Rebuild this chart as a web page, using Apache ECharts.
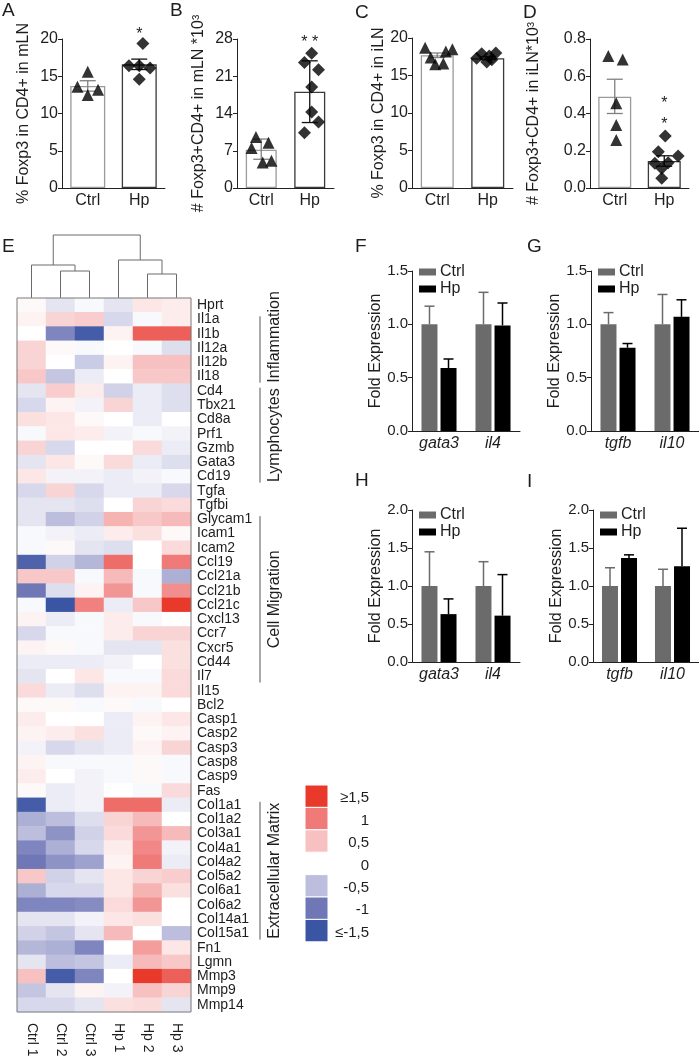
<!DOCTYPE html>
<html><head><meta charset="utf-8">
<script src="https://cdn.jsdelivr.net/npm/echarts@6/dist/echarts.min.js"></script>
<style>html,body{margin:0;padding:0;background:#fff}#c{width:699px;height:1063px}</style>
</head><body><div id="c"></div>
<script>
// ---------------- DATA ----------------
const groups = ['Ctrl', 'Hp'];

// Panel A
const aTitle = '% Foxp3 in CD4+ in mLN';
const aTicks = [0, 5, 10, 15, 20];
const aMeans = [13.7, 16.6];
const aErr = [[13.0, 14.4], [15.9, 17.3]];
const aCtrlPts = [15.6, 13.6, 12.5, 13.2];
const aCtrlJit = [0, -0.2, 0, 0.2];
const aHpPts = [19.4, 16.4, 16.4, 16.1, 14.6];
const aHpJit = [0.07, -0.2, 0, 0.21, 0];
const aStars = [[1, 20.6, '*']];

// Panel B
const bTitle = '# Foxp3+CD4+ in mLN *10³';
const bTicks = [0, 7, 14, 21, 28];
const bMeans = [7.2, 18.1];
const bErr = [[5.4, 9.2], [12.3, 23.9]];
const bCtrlPts = [9.6, 8.5, 7.5, 4.8, 5.1];
const bCtrlJit = [-0.11, 0.15, -0.2, 0.03, 0.21];
const bHpPts = [25.3, 23.6, 22.2, 19.0, 14.3, 12.4, 10.4];
const bHpJit = [0.04, -0.11, 0.18, 0.04, 0.04, 0.18, -0.11];
const bStars = [[1, 27.3, '* *']];

// Panel C
const cTitle = '% Foxp3 in CD4+ in iLN';
const cTicks = [0, 5, 10, 15, 20];
const cMeans = [17.7, 17.3];
const cErr = [[17.4, 18.0], [17.1, 17.5]];
const cCtrlPts = [18.7, 17.4, 16.5, 16.6, 18.2, 18.5];
const cCtrlJit = [-0.24, -0.13, -0.04, 0.12, 0.17, 0.3];
const cHpPts = [17.9, 16.8, 17.1, 18.0, 17.3, 17.6];
const cHpJit = [-0.12, -0.02, 0.08, 0.16, -0.22, 0.03];
const cStars = [];

// Panel D
const dTitle = '# Foxp3+CD4+ in iLN*10³';
const dTicks = [0, 0.2, 0.4, 0.6, 0.8];
const dMeans = [0.49, 0.145];
const dErr = [[0.40, 0.584], [0.117, 0.173]];
const dCtrlPts = [0.709, 0.69, 0.455, 0.338, 0.258];
const dCtrlJit = [-0.13, 0.16, 0.03, 0.03, 0.03];
const dHpPts = [0.279, 0.195, 0.172, 0.133, 0.136, 0.106, 0.052];
const dHpJit = [0.02, -0.12, 0.28, -0.19, 0.08, -0.05, -0.05];
const dStars = [[1, 0.451, '*'], [1, 0.338, '*']];

// Panel E (heatmap)
const samples = ['Ctrl 1', 'Ctrl 2', 'Ctrl 3', 'Hp 1', 'Hp 2', 'Hp 3'];
const genes = ['Hprt','Il1a','Il1b','Il12a','Il12b','Il18','Cd4','Tbx21','Cd8a','Prf1','Gzmb','Gata3','Cd19','Tgfa','Tgfbi',
  'Glycam1','Icam1','Icam2','Ccl19','Ccl21a','Ccl21b','Ccl21c','Cxcl13','Ccr7','Cxcr5','Cd44','Il7','Il15','Bcl2',
  'Casp1','Casp2','Casp3','Casp8','Casp9','Fas','Col1a1','Col1a2','Col3a1','Col4a1','Col4a2','Col5a2','Col6a1','Col6a2',
  'Col14a1','Col15a1','Fn1','Lgmn','Mmp3','Mmp9','Mmp14'];
const heatValues = [
  [0.05,-0.2,-0.05,-0.2,0.2,0.15],
  [0.1,0.35,0.4,-0.3,-0.05,0.15],
  [0.0,-0.9,-1.4,0.1,1.2,1.2],
  [0.35,0.05,-0.05,0.0,-0.05,-0.25],
  [0.35,0.0,-0.4,0.1,0.5,0.5],
  [0.45,-0.45,-0.15,0.0,0.45,0.45],
  [-0.2,0.4,0.15,-0.35,-0.15,-0.25],
  [-0.3,0.1,-0.1,0.35,-0.15,-0.25],
  [0.25,0.2,0.05,0.0,-0.15,0.0],
  [-0.05,0.2,0.15,-0.1,-0.05,-0.1],
  [0.35,-0.3,0.0,0.0,0.3,-0.15],
  [-0.2,0.2,0.05,0.3,-0.15,-0.25],
  [0.2,-0.1,-0.1,-0.15,-0.1,-0.05],
  [-0.3,0.35,-0.3,-0.15,-0.15,-0.3],
  [-0.2,-0.2,-0.25,0.0,0.35,0.3],
  [-0.2,-0.5,-0.35,0.6,0.45,0.55],
  [-0.05,-0.1,-0.15,0.15,0.25,0.05],
  [-0.05,0.05,-0.2,-0.25,0.0,0.3],
  [-1.3,-0.35,-0.55,1.1,0.0,1.0],
  [0.45,0.45,-0.05,0.55,-0.05,-0.6],
  [-1.0,-0.25,0.1,0.8,-0.05,0.85],
  [-0.05,-1.5,0.95,-0.15,0.45,1.5],
  [0.1,-0.15,-0.05,0.15,-0.05,0.0],
  [-0.3,-0.05,-0.05,0.15,0.35,0.35],
  [0.1,0.05,-0.05,-0.2,-0.2,0.25],
  [-0.15,-0.15,-0.15,-0.1,0.0,0.25],
  [-0.2,0.0,0.2,-0.05,-0.05,0.3],
  [0.3,-0.15,-0.25,0.1,0.1,0.3],
  [0.05,0.05,-0.05,0.05,-0.05,0.0],
  [0.15,0.0,0.0,-0.15,0.1,0.2],
  [0.1,0.15,0.25,-0.15,0.05,0.1],
  [-0.1,-0.3,-0.2,-0.15,0.1,0.35],
  [0.1,-0.05,-0.05,-0.05,0.05,-0.05],
  [0.15,0.0,-0.1,-0.05,0.05,-0.05],
  [0.05,-0.15,-0.1,0.0,-0.05,0.3],
  [-1.4,-0.15,-0.1,1.1,1.1,-0.15],
  [-0.6,-0.5,-0.25,0.35,0.55,0.0],
  [-0.5,-0.8,-0.35,0.3,0.8,0.55],
  [-0.9,-0.6,-0.3,0.15,0.9,-0.1],
  [-1.0,-0.8,-0.7,0.1,1.0,-0.15],
  [0.45,-0.35,-0.2,0.2,0.35,0.4],
  [-0.6,-0.3,-0.3,0.2,0.6,0.25],
  [-0.9,-0.9,-0.85,0.3,0.8,0.0],
  [-0.2,-0.2,-0.1,0.2,0.25,0.0],
  [-0.35,-0.45,-0.2,0.55,0.0,-0.5],
  [-0.55,-0.6,-0.9,0.0,0.75,0.2],
  [-0.2,-0.5,-0.45,-0.15,0.55,0.45],
  [0.5,-1.4,-0.9,0.0,1.5,1.2],
  [-0.45,-0.2,0.1,-0.1,0.5,0.35],
  [-0.3,-0.3,-0.2,0.25,0.3,-0.2]
];
// dendrogram merges: [left child, right child, height]; number = sample index, 'nK' = merge K
const dendroMerges = [[1, 2, 27], [0, 'n0', 33], [4, 5, 24], [3, 'n2', 38], ['n1', 'n3', 63]];
const geneGroups = ['Inflammation', 'Lymphocytes', 'Cell Migration', 'Extracellular Matrix'];
const geneGroupRanges = [['Il1a', 'Il18'], ['Cd4', 'Cd19'], ['Glycam1', 'Il7'], ['Col1a1', 'Col15a1']];
const scaleLabels = ['≥1,5', '1', '0,5', '0', '-0,5', '-1', '≤-1,5'];
const scaleColors = ['#e8392b', '#ef7a78', '#f7c1c1', null, '#bdbedd', '#6f77b7', '#3a55a4'];
const heatRamp = ['#3a55a4', '#6f77b7', '#bdbedd', '#ffffff', '#f7c1c1', '#ef7a78', '#e8392b'];

// Panels F-I
const fCats = ['gata3', 'il4'];
const gCats = ['tgfb', 'il10'];
const fgTicks = [0, 0.5, 1.0, 1.5];
const hiTicks = [0, 0.5, 1.0, 1.5, 2.0];
const fCtrl = [1.0, 1.0], fCtrlErr = [1.17, 1.30];
const fHp = [0.59, 0.99], fHpErr = [0.675, 1.20];
const gCtrl = [1.0, 1.0], gCtrlErr = [1.11, 1.28];
const gHp = [0.78, 1.07], gHpErr = [0.82, 1.23];
const hCtrl = [1.0, 1.0], hCtrlErr = [1.45, 1.32];
const hHp = [0.63, 0.61], hHpErr = [0.83, 1.15];
const iCtrl = [1.0, 1.0], iCtrlErr = [1.24, 1.22];
const iHp = [1.37, 1.26], iHpErr = [1.41, 1.76];
const panelLetters = ['A', 'B', 'C', 'D', 'E', 'F', 'G', 'H', 'I'];

// ---------------- STYLE / LAYOUT ----------------
const FONT = '"Liberation Sans", Arial, Helvetica, sans-serif';
const TXT = '#1e1e1e';
const AX = '#222';
const CTRL_C = '#6b6b6b', HP_C = '#000000';

const chart = echarts.init(document.getElementById('c'), null, {renderer: 'canvas'});
const grid = [], xAxis = [], yAxis = [], series = [];

// items: array of {cat, lo, hi, s, colorIdx}
function errRender(items, capW, colors, offsets, lw, bothCaps) {
  return function (params, api) {
    const it = items[params.dataIndex];
    const p1 = api.coord([it.cat, it.hi]), p0 = api.coord([it.cat, it.lo]);
    const x = p1[0] + offsets[it.s];
    const col = colors[it.colorIdx];
    const ch = [
      {type: 'line', shape: {x1: x, y1: p1[1], x2: x, y2: p0[1]}, style: {stroke: col, lineWidth: lw}},
      {type: 'line', shape: {x1: x - capW / 2, y1: p1[1], x2: x + capW / 2, y2: p1[1]}, style: {stroke: col, lineWidth: lw}}
    ];
    if (bothCaps) ch.push({type: 'line', shape: {x1: x - capW / 2, y1: p0[1], x2: x + capW / 2, y2: p0[1]}, style: {stroke: col, lineWidth: lw}});
    return {type: 'group', children: ch};
  };
}

// ---- top row ----
const topPanels = [
  {g: {left: 62, top: 39, width: 103, height: 149}, ticks: aTicks, barW: 35, means: aMeans, err: aErr, cp: aCtrlPts, cj: aCtrlJit, hp: aHpPts, hj: aHpJit, stars: aStars, name: aTitle, gap: 30, dec: 0},
  {g: {left: 237, top: 39, width: 97, height: 149}, ticks: bTicks, barW: 31, means: bMeans, err: bErr, cp: bCtrlPts, cj: bCtrlJit, hp: bHpPts, hj: bHpJit, stars: bStars, name: bTitle, gap: 30, dec: 0},
  {g: {left: 412, top: 38, width: 101, height: 150}, ticks: cTicks, barW: 33, means: cMeans, err: cErr, cp: cCtrlPts, cj: cCtrlJit, hp: cHpPts, hj: cHpJit, stars: cStars, name: cTitle, gap: 25, dec: 0},
  {g: {left: 590, top: 39, width: 99, height: 149}, ticks: dTicks, barW: 33, means: dMeans, err: dErr, cp: dCtrlPts, cj: dCtrlJit, hp: dHpPts, hj: dHpJit, stars: dStars, name: dTitle, gap: 48, dec: 1}
];
topPanels.forEach((p, i) => {
  grid.push(p.g);
  const interval = p.ticks[1] - p.ticks[0];
  xAxis.push({type: 'category', gridIndex: i, data: groups, boundaryGap: true,
    axisLine: {onZero: false, lineStyle: {color: AX, width: 1}},
    axisTick: {alignWithLabel: true, length: 4, lineStyle: {color: AX}},
    axisLabel: {color: TXT, fontSize: 16, fontFamily: FONT, margin: 5}});
  xAxis.push({type: 'value', gridIndex: i, min: -0.5, max: 1.5, show: false, axisLine: {onZero: false}});
  yAxis.push({type: 'value', gridIndex: i, min: p.ticks[0], max: p.ticks[p.ticks.length - 1], interval: interval,
    splitLine: {show: false},
    axisLine: {show: true, onZero: false, lineStyle: {color: AX, width: 1}},
    axisTick: {show: true, length: 4, lineStyle: {color: AX}},
    axisLabel: {color: TXT, fontSize: 16, fontFamily: FONT, margin: 4, formatter: v => v.toFixed(p.dec)},
    name: p.name, nameLocation: 'middle', nameGap: p.gap,
    nameTextStyle: {color: TXT, fontSize: 16, fontFamily: FONT}});
  series.push({type: 'bar', name: 'top' + i, xAxisIndex: 2 * i, yAxisIndex: i, barWidth: p.barW,
    data: p.means.map((v, k) => ({value: v, itemStyle: {color: '#fff', borderColor: k === 0 ? '#9a9a9a' : '#3a3a3a', borderWidth: 1.3}})),
    silent: true, z: 2});
  const items = p.err.map((e, k) => ({cat: k, lo: e[0], hi: e[1], s: 0, colorIdx: k}));
  series.push({type: 'custom', name: 'err' + i, xAxisIndex: 2 * i, yAxisIndex: i, z: 3,
    renderItem: errRender(items, 16, ['#808080', '#111'], [0], 1.3, true),
    data: items.map(it => [it.cat, it.lo, it.hi])});
  series.push({type: 'scatter', name: 'ptsC' + i, xAxisIndex: 2 * i + 1, yAxisIndex: i, symbol: 'triangle', symbolSize: 12,
    itemStyle: {color: '#000'}, z: 4, data: p.cp.map((v, k) => [0 + p.cj[k], v])});
  series.push({type: 'scatter', name: 'ptsH' + i, xAxisIndex: 2 * i + 1, yAxisIndex: i, symbol: 'diamond', symbolSize: 13,
    itemStyle: {color: '#000'}, z: 4, data: p.hp.map((v, k) => [1 + p.hj[k], v])});
  if (p.stars.length) series.push({type: 'custom', name: 'stars' + i, xAxisIndex: 2 * i, yAxisIndex: i, z: 5, clip: false,
    renderItem: function (params, api) {
      const st = p.stars[params.dataIndex];
      const c = api.coord([st[0], st[1]]);
      return {type: 'text', x: c[0], y: c[1], style: {text: st[2], fill: '#222', fontSize: 16, fontFamily: FONT, align: 'center', verticalAlign: 'middle'}};
    },
    data: p.stars.map(s => [s[0], s[1]])});
});

// ---- dendrogram (grid 4) ----
const nodePos = [];
function childPos(c) { return typeof c === 'number' ? {x: c + 0.5, h: 0} : nodePos[+c.slice(1)]; }
const dendroData = dendroMerges.map((m, k) => {
  const a = childPos(m[0]), b = childPos(m[1]);
  nodePos[k] = {x: (a.x + b.x) / 2, h: m[2]};
  return [a.x, a.h, b.x, b.h, m[2]];
});
grid.push({left: 17, top: 235, width: 174, height: 63});
xAxis.push({type: 'value', gridIndex: 4, min: 0, max: samples.length, show: false});
yAxis.push({type: 'value', gridIndex: 4, min: 0, max: 63, show: false});
series.push({type: 'custom', name: 'dendro', xAxisIndex: 8, yAxisIndex: 4, clip: false,
  renderItem: function (params, api) {
    const d = dendroData[params.dataIndex];
    const pts = [api.coord([d[0], d[1]]), api.coord([d[0], d[4]]), api.coord([d[2], d[4]]), api.coord([d[2], d[3]])];
    return {type: 'polyline', shape: {points: pts}, style: {stroke: '#6a6a6a', lineWidth: 1, fill: null}};
  },
  data: dendroData});

// ---- heatmap (grid 5) ----
grid.push({left: 17, top: 298, width: 174, height: 714, show: true, borderColor: '#7a7a7a', borderWidth: 1, backgroundColor: 'transparent', z: 10});
xAxis.push({type: 'category', gridIndex: 5, data: samples, position: 'bottom',
  axisLine: {show: false}, axisTick: {show: false}, splitLine: {show: false},
  axisLabel: {rotate: -90, margin: 11, fontSize: 14, color: TXT, fontFamily: FONT, interval: 0}});
yAxis.push({type: 'category', gridIndex: 5, data: genes, inverse: true, position: 'right',
  axisLine: {show: false}, axisTick: {show: false}, splitLine: {show: false},
  axisLabel: {margin: 6, fontSize: 14, color: TXT, fontFamily: FONT, interval: 0}});
const heatData = [];
heatValues.forEach((row, r) => row.forEach((v, c) => heatData.push([c, r, v])));
const heatIdx = series.length;
series.push({type: 'heatmap', name: 'heat', xAxisIndex: 9, yAxisIndex: 5, data: heatData, itemStyle: {borderWidth: 0}, z: 2});

// ---- F-I ----
const fiPanels = [
  {g: {left: 412, top: 271, width: 108, height: 160}, cats: fCats, ticks: fgTicks, ctrl: fCtrl, ce: fCtrlErr, hp: fHp, he: fHpErr, leg: [419, 264]},
  {g: {left: 591, top: 271, width: 108, height: 160}, cats: gCats, ticks: fgTicks, ctrl: gCtrl, ce: gCtrlErr, hp: gHp, he: gHpErr, leg: [598, 264]},
  {g: {left: 412, top: 510, width: 108, height: 152}, cats: fCats, ticks: hiTicks, ctrl: hCtrl, ce: hCtrlErr, hp: hHp, he: hHpErr, leg: [419, 507]},
  {g: {left: 593, top: 510, width: 106, height: 152}, cats: gCats, ticks: hiTicks, ctrl: iCtrl, ce: iCtrlErr, hp: iHp, he: iHpErr, leg: [600, 507]}
];
const legends = [];
fiPanels.forEach((p, j) => {
  const gi = 6 + j;
  grid.push(p.g);
  xAxis.push({type: 'category', gridIndex: gi, data: p.cats,
    axisLine: {onZero: false, lineStyle: {color: AX, width: 1}}, axisTick: {show: false},
    axisLabel: {color: TXT, fontSize: 16, fontStyle: 'italic', fontFamily: FONT, margin: 5}});
  yAxis.push({type: 'value', gridIndex: gi, min: 0, max: p.ticks[p.ticks.length - 1], interval: 0.5,
    splitLine: {show: false},
    axisLine: {show: true, onZero: false, lineStyle: {color: AX, width: 1}},
    axisTick: {show: true, length: 4, lineStyle: {color: AX}},
    axisLabel: {color: TXT, fontSize: 15, fontFamily: FONT, margin: 4, formatter: v => v.toFixed(1)},
    name: 'Fold Expression', nameLocation: 'middle', nameGap: 27,
    nameTextStyle: {color: TXT, fontSize: 16, fontFamily: FONT}});
  const xi = 10 + j;
  series.push({type: 'bar', name: 'Ctrl', xAxisIndex: xi, yAxisIndex: gi, barWidth: 16, barGap: '19%', itemStyle: {color: CTRL_C}, data: p.ctrl, z: 2});
  series.push({type: 'bar', name: 'Hp', xAxisIndex: xi, yAxisIndex: gi, barWidth: 16, barGap: '19%', itemStyle: {color: HP_C}, data: p.hp, z: 2});
  const items = [];
  p.ctrl.forEach((v, k) => items.push({cat: k, lo: v, hi: p.ce[k], s: 0, colorIdx: 0}));
  p.hp.forEach((v, k) => items.push({cat: k, lo: v, hi: p.he[k], s: 1, colorIdx: 1}));
  series.push({type: 'custom', name: 'fierr' + j, xAxisIndex: xi, yAxisIndex: gi, z: 1, clip: false,
    renderItem: errRender(items, 10, [CTRL_C, HP_C], [-9.5, 9.5], 1.5, false),
    data: items.map(it => [it.cat, it.lo, it.hi])});
  legends.push({data: ['Ctrl', 'Hp'], orient: 'vertical', left: p.leg[0], top: p.leg[1], itemWidth: 17, itemHeight: 7,
    itemGap: 1, icon: 'rect', selectedMode: false, padding: 0,
    textStyle: {color: TXT, fontSize: 16, fontFamily: FONT, padding: [0, 0, 0, -1]}});
});

chart.setOption({
  animation: false,
  backgroundColor: '#fff',
  textStyle: {fontFamily: FONT},
  grid: grid, xAxis: xAxis, yAxis: yAxis, series: series, legend: legends,
  visualMap: [{type: 'continuous', min: -1.5, max: 1.5, seriesIndex: heatIdx, show: false, calculable: false,
    inRange: {color: heatRamp}}]
});

// ---- annotations ----
const gfx = [];
const letterPos = [[2, 1], [170, 1], [355, 3], [523, 3], [2, 237], [355, 237], [527, 237], [355, 471], [527, 472]];
panelLetters.forEach((t, i) => gfx.push({type: 'text', x: letterPos[i][0], y: letterPos[i][1],
  style: {text: t, fontSize: 19, fontFamily: FONT, fill: TXT}}));

const rowH = 714 / genes.length;
geneGroups.forEach((name, i) => {
  const y0 = chart.convertToPixel({yAxisIndex: 5}, geneGroupRanges[i][0]) - rowH / 2 + 4;
  const y1 = chart.convertToPixel({yAxisIndex: 5}, geneGroupRanges[i][1]) + rowH / 2 - 1;
  gfx.push({type: 'line', shape: {x1: 260, y1: y0, x2: 260, y2: y1}, style: {stroke: '#555', lineWidth: 1}});
  const anchorBottom = i === 0; // label longer than its bracket: aligned to bracket end
  gfx.push({type: 'text', x: 275, y: anchorBottom ? y1 : (y0 + y1) / 2, rotation: Math.PI / 2,
    style: {text: name, fontSize: 16, fontFamily: FONT, fill: TXT, align: anchorBottom ? 'left' : 'center', verticalAlign: 'middle'}});
});

const slot = 22.4, sTop = 785;
scaleLabels.forEach((lab, i) => {
  if (scaleColors[i]) gfx.push({type: 'rect', shape: {x: 305, y: sTop + i * slot, width: 23, height: slot},
    style: {fill: scaleColors[i], stroke: '#fff', lineWidth: 1}});
  gfx.push({type: 'text', x: 369, y: sTop + i * slot + slot / 2 + 2,
    style: {text: lab, fontSize: 15, fontFamily: FONT, fill: TXT, align: 'right', verticalAlign: 'middle'}});
});
chart.setOption({graphic: gfx});
</script></body></html>
